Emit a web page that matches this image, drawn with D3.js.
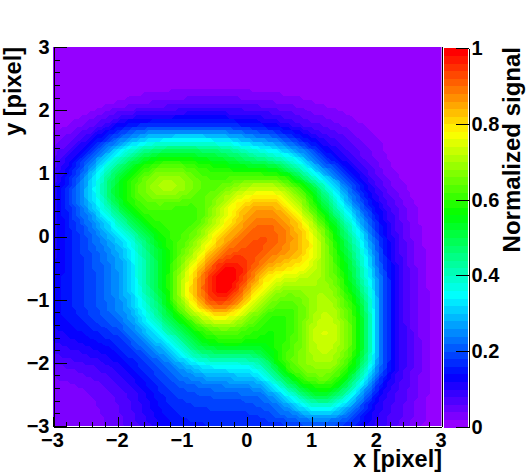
<!DOCTYPE html>
<html><head><meta charset="utf-8">
<script src="https://cdn.jsdelivr.net/npm/d3@7"></script>
<style>
html,body{margin:0;padding:0;background:#fff}
svg{display:block}
text{font-family:"Liberation Sans",Arial,sans-serif;font-weight:bold;fill:#000}
</style></head><body>
<svg id="c" width="526" height="474"></svg>
<script>
const xBins=[-3,-2.75,-2.5,-2.25,-2,-1.75,-1.5,-1.25,-1,-.75,-.5,-.25,0,.25,.5,.75,1,1.25,1.5,1.75,2,2.25,2.5,2.75,3];
const xTicks=[-3,-2,-1,0,1,2,3];
const yTicks=[-3,-2,-1,0,1,2,3];
const zTicks=[0,.2,.4,.6,.8,1];
// signal rows, from y=3 (top) down to y=-3, one value per xBins entry
const r300=[0,0,0,0,0,0,0,0,0,0,0,0,0,0,0,0,0,0,0,0,0,0,0,0,0];
const r275=[0,0,0,0,0,0,0,0,0,0,0,0,0,0,0,0,0,0,0,0,0,0,0,0,0];
const r250=[0,0,0,0,0,0,.003,.005,.005,.006,.006,.005,.005,.004,.003,.002,0,0,0,0,0,0,0,0,0];
const r225=[0,0,0,0,.005,.01,.02,.02,.025,.025,.025,.025,.02,.02,.015,.01,.005,0,0,0,0,0,0,0,0];
const r200=[0,0,.01,.02,.04,.05,.06,.07,.075,.08,.08,.08,.08,.07,.06,.05,.035,.025,.015,.01,0,0,0,0,0];
const r175=[.01,.02,.04,.07,.13,.16,.17,.17,.17,.17,.17,.16,.145,.13,.11,.08,.065,.05,.035,.02,.01,0,0,0,0];
const r150=[.03,.05,.1,.16,.24,.3,.34,.36,.37,.37,.36,.34,.3,.28,.25,.19,.13,.09,.07,.04,.025,.01,.005,0,0];
const r125=[.06,.1,.17,.27,.38,.47,.54,.57,.57,.55,.53,.5,.46,.42,.38,.33,.24,.145,.1,.06,.03,.01,.003,0,0];
const r100=[.08,.14,.24,.39,.49,.58,.65,.68,.66,.62,.6,.59,.58,.59,.58,.48,.33,.25,.17,.1,.055,.02,.005,0,0];
const r075=[.1,.17,.28,.4,.56,.62,.69,.73,.7,.63,.61,.67,.72,.74,.73,.66,.56,.38,.27,.15,.08,.04,.015,0,0];
const r050=[.1,.17,.26,.37,.51,.6,.62,.61,.59,.6,.67,.76,.82,.84,.82,.72,.6,.46,.31,.2,.12,.065,.03,.007,0];
const r025=[.1,.16,.21,.29,.38,.52,.6,.6,.58,.6,.69,.78,.85,.89,.87,.82,.7,.56,.43,.27,.15,.08,.035,.01,0];
const r000=[.1,.15,.19,.25,.31,.39,.5,.6,.6,.67,.77,.85,.89,.92,.89,.84,.78,.63,.48,.34,.18,.09,.04,.012,0];
const rm25=[.11,.145,.185,.225,.26,.34,.46,.56,.63,.71,.84,.9,.92,.91,.87,.83,.78,.65,.52,.385,.21,.1,.05,.015,0];
const rm50=[.12,.145,.18,.21,.25,.33,.45,.55,.68,.82,.95,1,.94,.84,.8,.78,.73,.65,.57,.41,.24,.11,.055,.02,0];
const rm75=[.125,.15,.18,.21,.25,.33,.46,.56,.72,.86,.99,1,.88,.76,.7,.68,.69,.68,.59,.44,.27,.12,.06,.02,.003];
const rm100=[.13,.15,.18,.21,.24,.31,.41,.54,.72,.86,.97,.95,.8,.7,.63,.62,.68,.71,.63,.52,.27,.115,.06,.02,.005];
const rm125=[.13,.15,.17,.2,.235,.28,.38,.49,.6,.72,.79,.77,.68,.6,.57,.6,.68,.73,.66,.56,.27,.11,.06,.02,.005];
const rm150=[.11,.125,.145,.165,.185,.24,.31,.4,.48,.57,.62,.63,.6,.57,.56,.62,.72,.75,.68,.57,.27,.115,.07,.02,.005];
const rm175=[.09,.1,.115,.13,.15,.19,.24,.3,.39,.52,.54,.56,.55,.55,.58,.62,.7,.73,.67,.57,.27,.11,.07,.025,.005];
const rm200=[.06,.07,.08,.09,.12,.15,.185,.225,.28,.345,.36,.36,.36,.41,.61,.66,.69,.7,.65,.52,.27,.12,.07,.025,.005];
const rm225=[.035,.04,.05,.065,.08,.12,.16,.19,.22,.24,.26,.27,.28,.31,.44,.6,.64,.65,.58,.39,.2,.09,.065,.025,.005];
const rm250=[.025,.03,.035,.045,.06,.085,.125,.165,.185,.19,.2,.205,.21,.22,.28,.39,.53,.55,.42,.27,.12,.08,.055,.02,.003];
const rm275=[.025,.025,.03,.04,.055,.08,.115,.15,.165,.175,.175,.175,.18,.19,.22,.26,.32,.32,.27,.16,.1,.075,.05,.02,.002];
const rm300=[.02,.025,.03,.035,.05,.07,.1,.13,.15,.155,.155,.155,.155,.16,.17,.18,.2,.2,.17,.14,.09,.07,.04,.015,0];
const rows=[r300,r275,r250,r225,r200,r175,r150,r125,r100,r075,r050,r025,r000,rm25,rm50,rm75,rm100,rm125,rm150,rm175,rm200,rm225,rm250,rm275,rm300];

const nLevels=50, nCells=100;
const svg=d3.select("#c");
const x=d3.scaleLinear().domain([-3,3]).range([53,441.5]);
const y=d3.scaleLinear().domain([-3,3]).range([426,47]);
const z=d3.scaleLinear().domain([0,1]).range([427,48]);
const levelColor=i=>d3.hsl(275*(1-i/(nLevels-1)),1,.5).formatHex();

// resample the read-off grid smoothly onto the display bins with D3's basis spline
const rowSpl=rows.map(r=>d3.interpolateBasis(r));
let field=[];
for(let i=0;i<nCells;i++){
  const u=(i+.5)/nCells;
  const col=d3.interpolateBasis(rowSpl.map(f=>f(u)));
  for(let j=0;j<nCells;j++){field[j*nCells+i]=col((j+.5)/nCells);}
}
const fmax=d3.max(field);
field=field.map(v=>Math.max(0,v/fmax));

const thresholds=d3.range(1,nLevels).map(i=>i/nLevels);
const contours=d3.contours().size([nCells,nCells]).smooth(false).thresholds(thresholds)(field);
const cw=(x.range()[1]-x.range()[0])/nCells, ch=(y.range()[0]-y.range()[1])/nCells;
const proj=d3.geoTransform({point(px,py){this.stream.point(x.range()[0]+px*cw,y.range()[1]+py*ch);}});
const path=d3.geoPath(proj);

svg.append("rect").attr("x",x(-3)).attr("y",y(3)).attr("width",x(3)-x(-3)).attr("height",y(-3)-y(3)).attr("fill",levelColor(0));
svg.append("g").attr("shape-rendering","crispEdges").selectAll("path").data(contours).join("path")
  .attr("d",path).attr("fill",(d,i)=>levelColor(i+1));

// palette
const zBand=d3.range(nLevels);
svg.append("g").attr("shape-rendering","crispEdges").selectAll("rect").data(zBand).join("rect")
  .attr("x",444).attr("width",24)
  .attr("y",i=>z((i+1)/nLevels)).attr("height",i=>z(i/nLevels)-z((i+1)/nLevels)+.5)
  .attr("fill",i=>levelColor(i));

const minor=(t)=>d3.range(-3,3.01,.2).map(v=>+v.toFixed(1)).filter(v=>!t.includes(v));
function style(g){
  g.selectAll("path.domain").attr("stroke","#000").attr("stroke-width",1);
  g.selectAll("line").attr("stroke","#000").attr("stroke-width",1);
  g.attr("shape-rendering","crispEdges");
  g.selectAll("text").style("font-size","20px").attr("font-family",'"Liberation Sans",Arial,sans-serif').attr("font-weight","bold");
}
// x axis
const gx=svg.append("g").attr("transform","translate(0,426.5)")
  .call(d3.axisBottom(x).tickValues(xTicks).tickSize(-10).tickSizeOuter(0).tickPadding(6).tickFormat(d3.format("d")));
gx.call(style);
gx.selectAll("text").attr("dy","0.71em").attr("dx",-1);
svg.append("g").attr("transform","translate(0,426.5)")
  .call(d3.axisBottom(x).tickValues(minor(xTicks)).tickSize(-5).tickSizeOuter(0).tickFormat("")).call(style);
// y axis
const gy=svg.append("g").attr("transform","translate(53.5,0)")
  .call(d3.axisLeft(y).tickValues(yTicks).tickSize(-13).tickSizeOuter(0).tickPadding(4).tickFormat(d3.format("d")));
gy.call(style);
svg.append("g").attr("transform","translate(53.5,0)")
  .call(d3.axisLeft(y).tickValues(minor(yTicks)).tickSize(-6.5).tickSizeOuter(0).tickFormat("")).call(style);
// right frame
svg.append("line").attr("x1",442).attr("x2",442).attr("y1",47).attr("y2",427).attr("stroke","#000").attr("shape-rendering","crispEdges");
// palette axis
const gz=svg.append("g").attr("transform","translate(468.5,0)")
  .call(d3.axisRight(z).tickValues(zTicks).tickSize(-13).tickSizeOuter(0).tickPadding(3).tickFormat(d=>d===0||d===1?d3.format("d")(d):d3.format(".1f")(d)));
gz.call(style);

// titles
svg.append("text").attr("x",442).attr("y",467).attr("text-anchor","end").attr("font-size",23.5).text("x [pixel]");
svg.append("text").attr("transform","translate(21,47) rotate(-90)").attr("text-anchor","end").attr("font-size",23.5).text("y [pixel]");
svg.append("text").attr("transform","translate(520,47) rotate(-90)").attr("text-anchor","end").attr("font-size",24).text("Normalized signal");
</script>
</body></html>
